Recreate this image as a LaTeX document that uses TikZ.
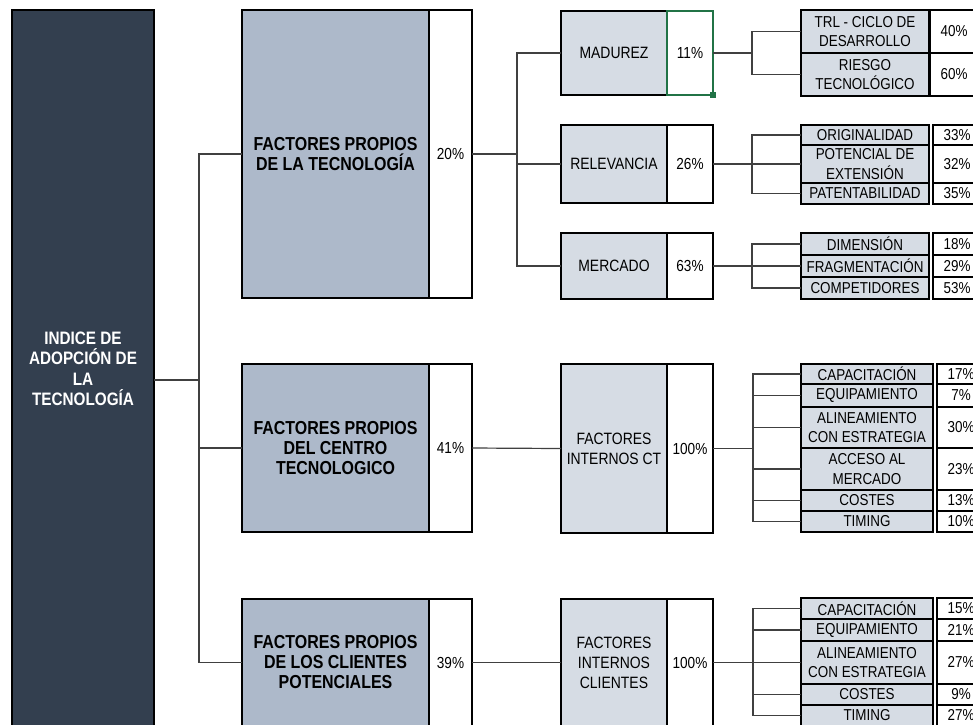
\documentclass[tikz,border=0pt]{standalone}
\usepackage{fontspec}
\setmainfont{Liberation Sans}[FakeStretch=0.85]
\usetikzlibrary{positioning}
\definecolor{oroot}{HTML}{333F4F}
\definecolor{oblock}{HTML}{ADB9CA}
\definecolor{opale}{HTML}{D6DCE4}
\definecolor{oline}{HTML}{404040}
\definecolor{osel}{HTML}{217346}

\begin{document}
\begin{tikzpicture}[
  x=1pt, y=-1pt,
  box/.style={
    draw=black,
    line width=2pt,
    outer sep=0pt,
    inner sep=2pt,
    align=center,
    anchor=north west
  },
  root/.style={box, fill=oroot, text=white, minimum width=142pt,
    font=\fontsize{18}{20.5}\selectfont\bfseries},
  factor/.style={box, fill=oblock, minimum width=187pt,
    font=\fontsize{18.8}{20}\selectfont\bfseries},
  sub/.style={box, fill=opale, minimum width=106pt,
    font=\fontsize{16.4}{20}\selectfont},
  leaf/.style={box, fill=opale, minimum width=128pt,
    font=\fontsize{15.8}{19.5}\selectfont},
  wide leaf/.style={leaf, minimum width=132pt},
  share/.style={draw=black, line width=2pt, outer sep=0pt, inner sep=1pt,
    fill=white, font=\fontsize{16}{18}\selectfont},
  leaf share/.style={share, minimum width=48pt,
    font=\fontsize{15.8}{18}\selectfont},
  link/.style={draw=oline, line width=1.2pt},
  handle/.style={fill=osel, minimum size=6pt, inner sep=0pt, outer sep=0pt}
]

\path[use as bounding box, fill=white] (0,0) rectangle (973,724);

\node[root, minimum height=718pt] (root) at (12,10) {
  INDICE DE\\ADOPCIÓN DE\\LA\\TECNOLOGÍA
};

\node[factor, minimum height=288pt] (f1) at (242,10) {FACTORES PROPIOS\\DE LA TECNOLOGÍA};
\node[share, minimum width=43pt, minimum height=288pt, right=0pt of f1] (p1) {20\%};
\node[factor, minimum height=168pt] (f2) at (242,364) {FACTORES PROPIOS\\DEL CENTRO\\TECNOLOGICO};
\node[share, minimum width=43pt, minimum height=168pt, right=0pt of f2] (p2) {41\%};
\node[factor, minimum height=127pt] (f3) at (242,599) {FACTORES PROPIOS\\DE LOS CLIENTES\\POTENCIALES};
\node[share, minimum width=43pt, minimum height=127pt, right=0pt of f3] (p3) {39\%};

\coordinate (hub0) at (199,380);
\draw[link] (root.east |- hub0) -- (hub0);
\draw[link] (hub0) |- (f1.west);
\draw[link] (hub0) |- (f2.west);
\draw[link] (hub0) |- (f3.west);

\node[sub, minimum height=84pt] (mad) at (561,11) {MADUREZ};
\node[share, draw=osel, minimum width=46pt, minimum height=84pt, right=0pt of mad] (madp) {11\%};
\node[sub, minimum height=78pt] (rel) at (561,125) {RELEVANCIA};
\node[share, minimum width=46pt, minimum height=78pt, right=0pt of rel] (relp) {26\%};
\node[sub, minimum height=66pt] (mer) at (561,233) {MERCADO};
\node[share, minimum width=46pt, minimum height=66pt, right=0pt of mer] (merp) {63\%};
\node[sub, minimum height=169pt] (ict) at (561,364) {FACTORES\\INTERNOS CT};
\node[share, minimum width=46pt, minimum height=169pt, right=0pt of ict] (ictp) {100\%};
\node[sub, minimum height=127pt] (icl) at (561,599) {FACTORES\\INTERNOS\\CLIENTES};
\node[share, minimum width=46pt, minimum height=127pt, right=0pt of icl] (iclp) {100\%};

\draw[link] (p1.east) -- ++(45,0) coordinate (hub1);
\draw[link] (hub1) |- (mad.west);
\draw[link] (hub1) |- (rel.west);
\draw[link] (hub1) |- (mer.west);
\draw[link] (p2.east) -- (ict.west);
\draw[link] (p3.east) -- (icl.west);

\node[leaf, minimum height=43pt] (trl) at (801,10) {TRL - CICLO DE\\DESARROLLO};
\node[leaf share, minimum height=43pt, right=1pt of trl] (trlp) {40\%};
\node[leaf, minimum height=43pt] (rie) at (801,53) {RIESGO\\TECNOLÓGICO};
\node[leaf share, minimum height=43pt, right=1pt of rie] (riep) {60\%};

\node[leaf, minimum height=20pt] (ori) at (801,125) {ORIGINALIDAD};
\node[leaf share, minimum height=20pt, right=4pt of ori] (orip) {33\%};
\node[leaf, minimum height=38pt] (pot) at (801,145) {POTENCIAL DE\\EXTENSIÓN};
\node[leaf share, minimum height=38pt, right=4pt of pot] (potp) {32\%};
\node[leaf, minimum height=21pt] (pat) at (801,183) {PATENTABILIDAD};
\node[leaf share, minimum height=21pt, right=4pt of pat] (patp) {35\%};

\node[leaf, minimum height=22pt] (dim) at (801,233) {DIMENSIÓN};
\node[leaf share, minimum height=22pt, right=4pt of dim] (dimp) {18\%};
\node[leaf, minimum height=22pt] (fra) at (801,255) {FRAGMENTACIÓN};
\node[leaf share, minimum height=22pt, right=4pt of fra] (frap) {29\%};
\node[leaf, minimum height=22pt] (com) at (801,277) {COMPETIDORES};
\node[leaf share, minimum height=22pt, right=4pt of com] (comp) {53\%};

\node[wide leaf, minimum height=20pt] (capct) at (801,364) {CAPACITACIÓN};
\node[leaf share, minimum height=20pt, right=4pt of capct] (capctp) {17\%};
\node[wide leaf, minimum height=23pt] (equct) at (801,384) {EQUIPAMIENTO};
\node[leaf share, minimum height=23pt, right=4pt of equct] (equctp) {7\%};
\node[wide leaf, minimum height=41pt] (alict) at (801,407) {ALINEAMIENTO\\CON ESTRATEGIA};
\node[leaf share, minimum height=41pt, right=4pt of alict] (alictp) {30\%};
\node[wide leaf, minimum height=42pt] (acc) at (801,448) {ACCESO AL\\MERCADO};
\node[leaf share, minimum height=42pt, right=4pt of acc] (accp) {23\%};
\node[wide leaf, minimum height=21pt] (cosct) at (801,490) {COSTES};
\node[leaf share, minimum height=21pt, right=4pt of cosct] (cosctp) {13\%};
\node[wide leaf, minimum height=21pt] (timct) at (801,511) {TIMING};
\node[leaf share, minimum height=21pt, right=4pt of timct] (timctp) {10\%};

\node[wide leaf, minimum height=21pt] (capcl) at (801,598) {CAPACITACIÓN};
\node[leaf share, minimum height=21pt, right=4pt of capcl] (capclp) {15\%};
\node[wide leaf, minimum height=22pt] (equcl) at (801,619) {EQUIPAMIENTO};
\node[leaf share, minimum height=22pt, right=4pt of equcl] (equclp) {21\%};
\node[wide leaf, minimum height=43pt] (alicl) at (801,641) {ALINEAMIENTO\\CON ESTRATEGIA};
\node[leaf share, minimum height=43pt, right=4pt of alicl] (aliclp) {27\%};
\node[wide leaf, minimum height=21pt] (coscl) at (801,684) {COSTES};
\node[leaf share, minimum height=21pt, right=4pt of coscl] (cosclp) {9\%};
\node[wide leaf, minimum height=21pt] (timcl) at (801,705) {TIMING};
\node[leaf share, minimum height=21pt, right=4pt of timcl] (timclp) {27\%};

\draw[link] (madp.east) -- ++(39,0) coordinate (hubm);
\draw[link] (hubm) |- (trl.west);
\draw[link] (hubm) |- (rie.west);

\draw[link] (relp.east) -- ++(39,0) coordinate (hubr);
\draw[link] (hubr) |- (ori.west);
\draw[link] (hubr) -- (pot.west);
\draw[link] (hubr) |- (pat.west);

\draw[link] (merp.east) -- ++(39,0) coordinate (hubk);
\draw[link] (hubk) |- (dim.west);
\draw[link] (hubk) -- (fra.west);
\draw[link] (hubk) |- (com.west);

\draw[link] (ictp.east) -- ++(40,0) coordinate (hubt);
\draw[link] (hubt) |- (capct.west);
\draw[link] (hubt) |- (equct.west);
\draw[link] (hubt) |- (alict.west);
\draw[link] (hubt) |- (acc.west);
\draw[link] (hubt) |- (cosct.west);
\draw[link] (hubt) |- (timct.west);

\draw[link] (iclp.east) -- ++(40,0) coordinate (hubc);
\draw[link] (hubc) |- (capcl.west);
\draw[link] (hubc) |- (equcl.west);
\draw[link] (hubc) -- (alicl.west);
\draw[link] (hubc) |- (coscl.west);
\draw[link] (hubc) |- (timcl.west);

\node[handle] (grip) at (madp.south east) {};

\end{tikzpicture}
\end{document}
